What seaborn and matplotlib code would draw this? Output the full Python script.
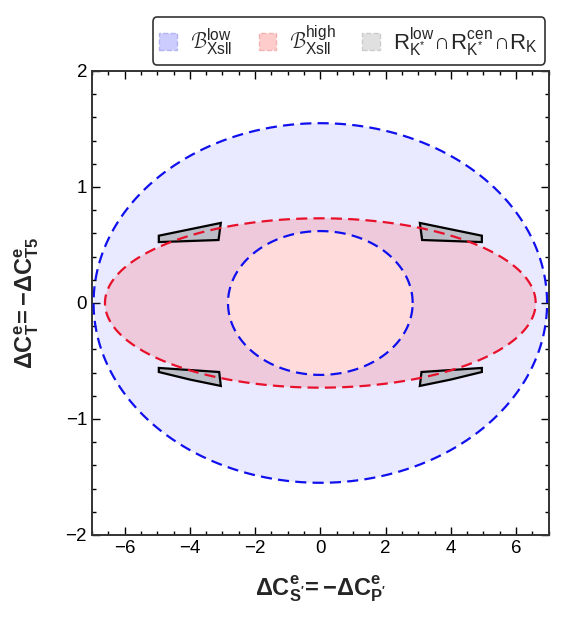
import numpy as np
import pandas as pd
import seaborn as sns
from matplotlib import pyplot as plt
from matplotlib.patches import Patch
from matplotlib.ticker import MultipleLocator

# ellipse semi-axes (x, y)
outer_blue = (6.95, 1.55)
inner_blue = (2.83, 0.62)
red_ell = (6.6, 0.73)

# gray wedges: vertices (x, y)
wedge_ul_x = [-4.95, -4.95, -4.0, -3.05, -3.12]
wedge_ul_y = [0.525, 0.58, 0.635, 0.69, 0.543]
wedge_ll_x = [-4.95, -4.95, -4.0, -3.05, -3.1]
wedge_ll_y = [-0.56, -0.595, -0.66, -0.715, -0.595]

sns.set_theme(style="ticks")
plt.rcParams['font.family'] = ['Liberation Sans', 'DejaVu Sans']
plt.rcParams['mathtext.fontset'] = 'custom'
plt.rcParams['mathtext.rm'] = 'Liberation Sans'
plt.rcParams['mathtext.it'] = 'Liberation Sans'
plt.rcParams['mathtext.bf'] = 'Liberation Sans:bold'
plt.rcParams['mathtext.sf'] = 'Liberation Sans'


def ellipse(ab, n=400):
    t = np.linspace(0, 2 * np.pi, n)
    return pd.DataFrame({"x": ab[0] * np.cos(t), "y": ab[1] * np.sin(t)})


fig = plt.figure(figsize=(5.71, 6.21), dpi=100)
ax = fig.add_axes([0.161, 0.1385, 0.8, 0.7472])

ob = ellipse(outer_blue)
ib = ellipse(inner_blue)
rd = ellipse(red_ell)

blue_fill = (0.35, 0.35, 1.0, 0.13)
red_fill = (1.0, 0.3, 0.3, 0.2)

# B_low: annulus between inner and outer blue ellipses
ax.fill(np.r_[ob.x, ib.x[::-1]], np.r_[ob.y, ib.y[::-1]], color=blue_fill, lw=0)
ax.fill(rd.x, rd.y, color=red_fill, lw=0)

for wx, wy in [(wedge_ul_x, wedge_ul_y), (wedge_ll_x, wedge_ll_y)]:
    for s in (1, -1):
        ax.fill(np.array(wx) * s, wy, facecolor=(0.74, 0.74, 0.78), edgecolor='black', lw=1.6, zorder=3)

dash = (0, (5, 2.8))
for df, col in [(ob, '#1010ee'), (ib, '#1010ee'), (rd, '#e8102a')]:
    sns.lineplot(data=df, x="x", y="y", sort=False, estimator=None, errorbar=None,
                 ax=ax, color=col, lw=1.6, linestyle=dash, zorder=4)

ax.set_xlim(-7, 7)
ax.set_ylim(-2, 2)
ax.xaxis.set_major_locator(MultipleLocator(2))
ax.xaxis.set_minor_locator(MultipleLocator(0.5))
ax.yaxis.set_major_locator(MultipleLocator(1))
ax.yaxis.set_minor_locator(MultipleLocator(0.2))
ax.tick_params(which='both', direction='in', top=True, right=True, width=1.0, labelsize=13.5, colors='black')
ax.tick_params(which='major', length=6)
ax.tick_params(which='minor', length=3)
for sp in ax.spines.values():
    sp.set_linewidth(1.4)
    sp.set_color('#333333')

ax.set_xlabel(r"$\mathbf{\Delta C^{e}_{S'}\!={-}\Delta C^{e}_{P'}}$", fontsize=17, labelpad=12)
ax.set_ylabel(r"$\mathbf{\Delta C^{e}_{T}\!={-}\Delta C^{e}_{T5}}$", fontsize=17, labelpad=18)

handles = [
    Patch(facecolor=(0.8, 0.8, 1.0), edgecolor=(0.7, 0.7, 0.95), linestyle='--'),
    Patch(facecolor=(1.0, 0.8, 0.8), edgecolor=(0.95, 0.7, 0.7), linestyle='--'),
    Patch(facecolor=(0.88, 0.88, 0.88), edgecolor=(0.8, 0.8, 0.8), linestyle='--'),
]
labels = [
    r"$\mathcal{B}^{\rm low}_{\rm Xsll}$",
    r"$\mathcal{B}^{\rm high}_{\rm Xsll}$",
    r"$\rm R^{low}_{K^{*}}\!\cap\! R^{cen}_{K^{*}}\!\cap\! R_{K}$",
]
leg = fig.legend(handles, labels, loc='center', bbox_to_anchor=(0.611, 0.934), ncol=3,
                 fontsize=16, frameon=True, fancybox=True, edgecolor='black',
                 handlelength=0.8, handleheight=0.8, handletextpad=0.6, columnspacing=1.2,
                 borderpad=0.3)
leg.get_frame().set_linewidth(1.2)

fig.savefig("out.png", dpi=100)
